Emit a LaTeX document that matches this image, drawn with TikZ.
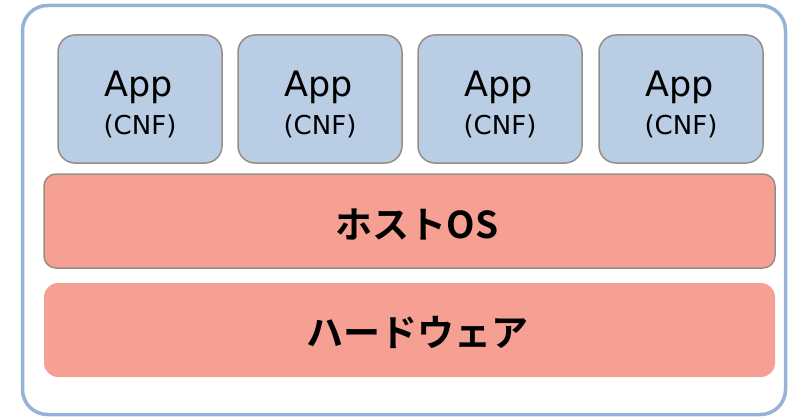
\documentclass[tikz,border=0pt]{standalone}
\usepackage{fontspec}
\setmainfont{DejaVu Sans}
\newfontfamily\jpfont{Noto Sans CJK JP}[BoldFont={* Bold}]
\definecolor{frameblue}{HTML}{95B3D7}
\definecolor{appfill}{HTML}{B9CDE5}
\definecolor{boxgray}{HTML}{968E86}
\definecolor{salmon}{HTML}{F5A093}
\begin{document}
\begin{tikzpicture}[x=1pt,y=-1pt,
  appbox/.style={draw=boxgray,line width=1.5pt,fill=appfill,rounded corners=17pt},
  osbox/.style={draw=boxgray,line width=1.5pt,fill=salmon,rounded corners=12pt},
  hwbox/.style={fill=salmon,rounded corners=14pt},
  apptxt/.style={inner sep=0pt,anchor=base,font=\fontsize{35}{35}\selectfont},
  cnftxt/.style={inner sep=0pt,anchor=base,font=\fontsize{26}{26}\selectfont},
  jptxt/.style={inner sep=0pt,font=\jpfont\bfseries\fontsize{37}{37}\selectfont}]
\useasboundingbox (0,0) rectangle (789,417);
\draw[frameblue,line width=3.5pt,rounded corners=25pt] (22.5,5.5) rectangle (785.5,414.5);
\foreach \i/\x in {1/58,2/238,3/418,4/599}{
  \draw[appbox] (\x,35) rectangle ++(164,128);
  \node[apptxt] (app\i) at (\x+81,97) {App};
  \node[cnftxt] (cnf\i) at (\x+82,134) {(CNF)};
}
\draw[osbox] (44,174) rectangle (775,268);
\node[jptxt] (os) at (417,225) {ホストOS};
\fill[hwbox] (44,283) rectangle (775,377);
\node[jptxt] (hw) at (417,332) {ハードウェア};
\end{tikzpicture}
\end{document}
